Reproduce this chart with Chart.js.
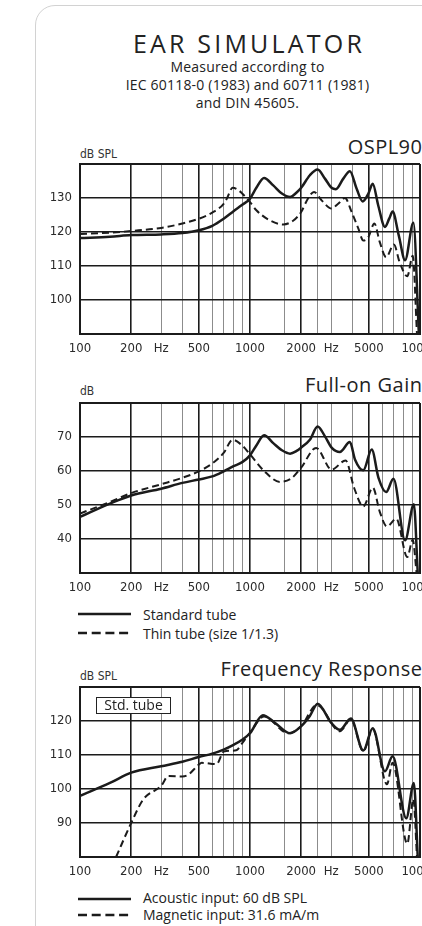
<!DOCTYPE html>
<html>
<head>
<meta charset="utf-8">
<title>Ear simulator</title>
<script src="https://cdn.jsdelivr.net/npm/chart.js@4/dist/chart.umd.min.js"></script>
<style>
  html, body { margin: 0; padding: 0; width: 422px; height: 926px; overflow: hidden; background: #fff; }
  body { position: relative; font-family: 'Open Sans', sans-serif; color: #222; }
  .abs { position: absolute; white-space: nowrap; }
  #card { position: absolute; left: 35px; top: 5px; width: 440px; height: 1000px; box-sizing: border-box;
          border: 1.5px solid #d2d2d2; border-radius: 20px; }
  #title { left: 35px; width: 425px; top: 31px; text-align: center; font-size: 25px; line-height: 25px;
           letter-spacing: 3.2px; padding-left: 3px; box-sizing: border-box; }
  #sub { left: 35px; width: 425px; top: 58.4px; text-align: center; font-size: 14px; line-height: 17.8px; letter-spacing: 0.2px; }
  .ctitle { left: 0; width: 422.5px; text-align: right; font-size: 20px; line-height: 20px; letter-spacing: 0.5px; }
  .unit { left: 80px; font-family: 'DejaVu Sans Condensed', 'Liberation Sans Narrow', 'Liberation Sans', sans-serif;
          font-size: 12px; line-height: 12px; color: #333; }
  .leg { left: 143px; font-size: 14px; line-height: 14px; }
  .legline { position: absolute; left: 78px; width: 54px; height: 4px; }
  canvas { position: absolute; left: 0; }
  #stdbox { left: 96px; top: 697px; width: 75px; height: 16.5px; box-sizing: border-box; border: 1.5px solid #222;
            background: #fff; text-align: center; font-size: 14px; line-height: 13px; z-index: 2; }
</style>
</head>
<body>
<div id="card"></div>
<div id="title" class="abs">EAR SIMULATOR</div>
<div id="sub" class="abs">Measured according to<br>IEC 60118-0 (1983) and 60711 (1981)<br>and DIN 45605.</div>

<div class="abs ctitle" style="top:137px">OSPL90</div>
<div class="abs unit" style="top:147.5px">dB SPL</div>
<canvas id="ospl" width="460" height="210" style="top:154px"></canvas>

<div class="abs ctitle" style="top:374.5px">Full-on Gain</div>
<div class="abs unit" style="top:385px">dB</div>
<canvas id="gain" width="460" height="210" style="top:393px"></canvas>
<svg class="legline" style="top:612px" viewBox="0 0 54 4"><line x1="0" y1="2" x2="53" y2="2" stroke="#1b1b1b" stroke-width="2.5"/></svg>
<div class="abs leg" style="top:608px">Standard tube</div>
<svg class="legline" style="top:630.5px" viewBox="0 0 54 4"><line x1="0" y1="2" x2="53" y2="2" stroke="#1b1b1b" stroke-width="2.5" stroke-dasharray="9 4.7"/></svg>
<div class="abs leg" style="top:626.5px">Thin tube (size 1/1.3)</div>

<div class="abs ctitle" style="top:659px">Frequency Response</div>
<div class="abs unit" style="top:670px">dB SPL</div>
<canvas id="resp" width="460" height="210" style="top:677px"></canvas>
<div id="stdbox" class="abs">Std. tube</div>
<svg class="legline" style="top:896.5px" viewBox="0 0 54 4"><line x1="0" y1="2" x2="53" y2="2" stroke="#1b1b1b" stroke-width="2.5"/></svg>
<div class="abs leg" style="top:891px">Acoustic input: 60 dB SPL</div>
<svg class="legline" style="top:913px" viewBox="0 0 54 4"><line x1="0" y1="2" x2="53" y2="2" stroke="#1b1b1b" stroke-width="2.5" stroke-dasharray="9 4.7"/></svg>
<div class="abs leg" style="top:907.5px">Magnetic input: 31.6 mA/m</div>

<script>
// Frequency axis: grid positions, heavy lines and labelled positions (Hz)
const gridFreqs = [100, 200, 300, 400, 500, 600, 700, 800, 900, 1000, 1600, 2000, 2500, 3000, 4000, 5000, 6000, 7000, 8000, 9000, 10000];
const majorFreqs = [100, 200, 500, 1000, 2000, 5000, 10000];
const labelFreqs = [100, 200, 300, 500, 1000, 2000, 3000, 5000, 10000];
const labelTexts = ['100', '200', 'Hz', '500', '1000', '2000', 'Hz', '5000', '10000'];

// Level axes: [min, max] and labelled ticks
const osplRange = [90, 140];
const osplTicks = [100, 110, 120, 130];
const gainRange = [30, 80];
const gainTicks = [40, 50, 60, 70];
const respRange = [80, 130];
const respTicks = [90, 100, 110, 120];

// OSPL90 (dB SPL)
const osplStdFreq = [100, 150, 200, 300, 400, 500, 600, 700, 800, 900, 1000, 1090, 1210, 1370, 1540, 1720, 1880, 2000, 2250, 2500, 2760, 3020, 3200, 3540, 3870, 4240, 4600, 4970, 5270, 5680, 6220, 6600, 6900, 7500, 8170, 9140, 9850];
const osplStdDb   = [118.2, 118.6, 119.1, 119.3, 119.7, 120.5, 121.8, 123.9, 126.1, 128.0, 129.8, 133.0, 135.9, 133.7, 131.3, 130.3, 131.6, 133.0, 136.7, 138.4, 135.7, 133.0, 132.6, 135.7, 137.9, 132.7, 129.0, 131.3, 134.2, 127.8, 121.5, 124.0, 126.0, 119.0, 111.7, 122.7, 90];
const osplThinFreq = [100, 150, 200, 300, 400, 500, 600, 700, 730, 790, 855, 900, 1000, 1090, 1310, 1570, 1800, 2000, 2190, 2380, 2640, 3020, 3300, 3620, 3960, 4340, 4640, 4970, 5390, 5800, 6320, 7020, 7600, 8420, 9060, 9600];
const osplThinDb   = [119.4, 119.8, 120.3, 121.2, 122.5, 123.9, 125.7, 128.3, 129.8, 133.0, 132.3, 131.3, 128.8, 126.4, 123.4, 122.2, 123.4, 125.9, 129.8, 131.8, 129.3, 126.9, 128.3, 130.0, 125.9, 121.0, 117.5, 118.5, 122.5, 117.0, 112.6, 116.3, 111.0, 107.0, 113.0, 90];

// Full-on gain (dB)
const gainStdFreq = [100, 150, 200, 300, 400, 500, 600, 700, 800, 900, 1000, 1090, 1210, 1370, 1540, 1720, 1880, 2000, 2250, 2500, 2760, 3020, 3380, 3870, 4150, 4640, 5200, 5700, 6320, 6980, 8170, 9200, 9700];
const gainStdDb   = [46.5, 50.4, 52.8, 54.8, 56.5, 57.5, 58.4, 59.9, 61.4, 62.6, 64.6, 67.5, 70.5, 68.2, 66.1, 65.1, 65.9, 66.9, 69.2, 73.1, 70.2, 66.9, 65.6, 68.5, 63.3, 60.2, 66.3, 58.0, 53.8, 57.7, 39.6, 50.2, 30];
const gainThinFreq = [100, 150, 200, 300, 400, 500, 600, 700, 790, 900, 1000, 1200, 1500, 1750, 2000, 2450, 3020, 3650, 4100, 4640, 5280, 5800, 6390, 7250, 8420, 9060, 9550];
const gainThinDb   = [47.5, 50.9, 53.5, 56.1, 58.0, 59.9, 62.2, 65.3, 69.2, 67.5, 64.9, 60.2, 56.8, 57.8, 61.0, 66.8, 60.4, 63.1, 55.0, 49.6, 55.1, 48.0, 43.7, 46.0, 34.7, 39.8, 30];

// Frequency response, standard tube (dB SPL)
const respAcuFreq = [100, 150, 200, 300, 400, 500, 600, 700, 800, 900, 1000, 1190, 1400, 1720, 2000, 2250, 2500, 3000, 3380, 3920, 4640, 5270, 6220, 6900, 8300, 9200, 9700];
const respAcuDb   = [98.0, 101.8, 104.8, 106.7, 108.0, 109.4, 110.4, 111.6, 113.0, 114.5, 116.4, 121.7, 119.5, 116.4, 118.5, 121.5, 125.1, 119.5, 117.4, 120.7, 111.3, 117.9, 105.2, 109.6, 91.4, 101.8, 80];
const respMagFreq = [163, 200, 236, 300, 331, 400, 433, 500, 520, 636, 700, 830, 900, 1000, 1210, 1680, 2000, 2470, 3380, 3920, 4640, 5270, 6390, 6900, 8420, 9140, 9600];
const respMagDb   = [80, 90, 97, 100.9, 103.8, 103.7, 104.2, 107.2, 107.7, 107.3, 111.0, 111.4, 113.5, 116.6, 121.3, 116.4, 118.5, 124.7, 117.0, 120.5, 111.1, 117.6, 101.4, 107.7, 83.9, 97.0, 80];

const INK = '#1b1b1b';
const tickFont = { family: "'DejaVu Sans Condensed', 'Liberation Sans Narrow', 'Liberation Sans', sans-serif", size: 13 };

function curve(freq, db, dashed) {
  return {
    data: freq.map((f, i) => ({ x: f, y: db[i] })),
    borderColor: INK,
    borderWidth: dashed ? 2 : 2.5,
    borderDash: dashed ? [7, 4] : [],
    pointRadius: 0,
    cubicInterpolationMode: 'monotone',
    fill: false
  };
}

// Axis boxes get a fixed size and no extra label padding, so every plot area is the same.
function fixBox(s, size) {
  if (s.isHorizontal()) s.height = size; else s.width = size;
  s.paddingTop = 0; s.paddingBottom = 0; s.paddingLeft = 0; s.paddingRight = 0;
}

function plot(id, range, ticks, datasets) {
  const [lo, hi] = range;
  return new Chart(document.getElementById(id), {
    type: 'line',
    data: { datasets },
    options: {
      responsive: false,
      animation: false,
      events: [],
      layout: { padding: { top: 10, right: 40, left: 0, bottom: 0 } },
      plugins: { legend: { display: false }, tooltip: { enabled: false } },
      scales: {
        x: {
          type: 'logarithmic', min: 100, max: 10000,
          afterBuildTicks: s => { s.ticks = gridFreqs.map(v => ({ value: v })); },
          afterFit: s => fixBox(s, 30),
          ticks: {
            autoSkip: false, maxRotation: 0, minRotation: 0, padding: 7, color: '#2a2a2a', font: tickFont,
            callback: v => { const i = labelFreqs.indexOf(v); return i >= 0 ? labelTexts[i] : ''; }
          },
          grid: {
            drawTicks: false,
            color: c => majorFreqs.includes(c.tick.value) ? INK : '#8c8c8c',
            lineWidth: c => (c.tick.value === 100 || c.tick.value === 10000) ? 2 : (majorFreqs.includes(c.tick.value) ? 1.6 : 1)
          },
          border: { display: true, color: INK, width: 2 }
        },
        y: {
          min: lo, max: hi,
          afterBuildTicks: s => { s.ticks = [lo, ...ticks, hi].map(v => ({ value: v })); },
          afterFit: s => fixBox(s, 80),
          ticks: {
            padding: 8, color: '#2a2a2a', font: tickFont,
            callback: v => ticks.includes(v) ? String(v) : ''
          },
          grid: {
            drawTicks: false, color: INK,
            lineWidth: c => (c.tick.value === lo || c.tick.value === hi) ? 2 : 1.6
          },
          border: { display: true, color: INK, width: 2 }
        }
      }
    }
  });
}

plot('ospl', osplRange, osplTicks, [curve(osplStdFreq, osplStdDb, false), curve(osplThinFreq, osplThinDb, true)]);
plot('gain', gainRange, gainTicks, [curve(gainStdFreq, gainStdDb, false), curve(gainThinFreq, gainThinDb, true)]);
plot('resp', respRange, respTicks, [curve(respAcuFreq, respAcuDb, false), curve(respMagFreq, respMagDb, true)]);
</script>
</body>
</html>
